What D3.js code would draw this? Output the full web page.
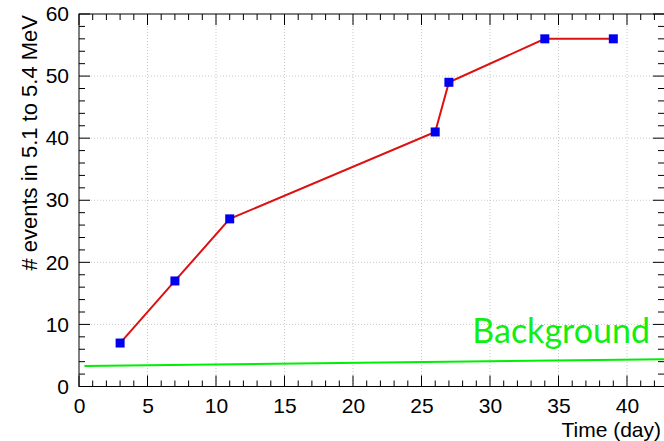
<!DOCTYPE html>
<html><head><meta charset="utf-8">
<script src="https://cdn.jsdelivr.net/npm/d3@7"></script>
<style>body{margin:0;background:#fff}svg{display:block}</style>
</head><body>
<svg id="c" width="664" height="441"></svg>
<script>
const days = [3, 7, 11, 26, 27, 34, 39];
const events = [7, 17, 27, 41, 49, 56, 56];
const bgDays = [0.4, 43];
const bgEvents = [3.3, 4.4];
const xTicks = [0, 5, 10, 15, 20, 25, 30, 35, 40];
const yTicks = [0, 10, 20, 30, 40, 50, 60];

const svg = d3.select("#c");
const L = 79, T = 14, R = 664, B = 386.5;
const x = d3.scaleLinear().domain([0, 42.7]).range([L, R]);
const y = d3.scaleLinear().domain([0, 60]).range([B, T]);
const font = "'Liberation Sans', Arial, sans-serif";

// grid
const g = svg.append("g");
g.selectAll(".gx").data(xTicks.filter(d => d > 0)).join("line")
  .attr("x1", d => x(d)).attr("x2", d => x(d)).attr("y1", T).attr("y2", B)
  .attr("stroke", "#c8c8c8").attr("stroke-width", 1).attr("stroke-dasharray", "1,2");
g.selectAll(".gy").data(yTicks.filter(d => d > 0 && d < 60)).join("line")
  .attr("x1", L).attr("x2", R).attr("y1", d => y(d)).attr("y2", d => y(d))
  .attr("stroke", "#c8c8c8").attr("stroke-width", 1).attr("stroke-dasharray", "1,2");

// frame
svg.append("rect").attr("x", L).attr("y", T).attr("width", R - L + 5).attr("height", B - T)
  .attr("fill", "none").attr("stroke", "#000").attr("stroke-width", 1);

// minor / major ticks
const xMinor = d3.range(0, 43, 1);
const yMinor = d3.range(0, 61, 2);
const tk = svg.append("g").attr("stroke", "#000").attr("stroke-width", 1);
xMinor.forEach(v => {
  const len = v % 5 === 0 ? 11 : 6;
  tk.append("line").attr("x1", x(v)).attr("x2", x(v)).attr("y1", B).attr("y2", B - len);
  tk.append("line").attr("x1", x(v)).attr("x2", x(v)).attr("y1", T).attr("y2", T + len);
});
yMinor.forEach(v => {
  const len = v % 10 === 0 ? 11 : 6;
  tk.append("line").attr("x1", L).attr("x2", L + len).attr("y1", y(v)).attr("y2", y(v));
  tk.append("line").attr("x1", R).attr("x2", R - len).attr("y1", y(v)).attr("y2", y(v));
});

// tick labels via axes
const xa = svg.append("g").attr("transform", `translate(0,${B})`)
  .call(d3.axisBottom(x).tickValues(xTicks).tickSize(0).tickPadding(12));
xa.select(".domain").remove();
xa.selectAll("text").attr("font-size", 21).attr("font-family", font).attr("fill", "#000");
const ya = svg.append("g").attr("transform", `translate(${L},0)`)
  .call(d3.axisLeft(y).tickValues(yTicks).tickSize(0).tickPadding(10));
ya.select(".domain").remove();
ya.selectAll("text").attr("font-size", 21).attr("font-family", font).attr("fill", "#000");

// axis titles
svg.append("text").attr("x", 661).attr("y", 437).attr("text-anchor", "end")
  .attr("font-size", 21).attr("font-family", font).text("Time (day)");
svg.append("text").attr("transform", "translate(37,15) rotate(-90)").attr("text-anchor", "end")
  .attr("font-size", 22).attr("font-family", font).text("# events in 5.1 to 5.4 MeV");

// background line
svg.append("line").attr("x1", x(bgDays[0])).attr("x2", x(bgDays[1]))
  .attr("y1", y(bgEvents[0])).attr("y2", y(bgEvents[1]))
  .attr("stroke", "#00ee00").attr("stroke-width", 2);
svg.append("text").attr("x", 650).attr("y", 343).attr("text-anchor", "end")
  .attr("font-size", 34).attr("font-family", "Lato, 'Open Sans', sans-serif").attr("fill", "#11ee11")
  .text("Background");

// data line
const pts = days.map((d, i) => [d, events[i]]);
svg.append("path").datum(pts)
  .attr("d", d3.line().x(d => x(d[0])).y(d => y(d[1])))
  .attr("fill", "none").attr("stroke", "#dd1111").attr("stroke-width", 2);
svg.selectAll(".m").data(pts).join("rect")
  .attr("x", d => x(d[0]) - 4.5).attr("y", d => y(d[1]) - 4.5)
  .attr("width", 9).attr("height", 9).attr("fill", "#0000ee");
</script>
</body></html>
